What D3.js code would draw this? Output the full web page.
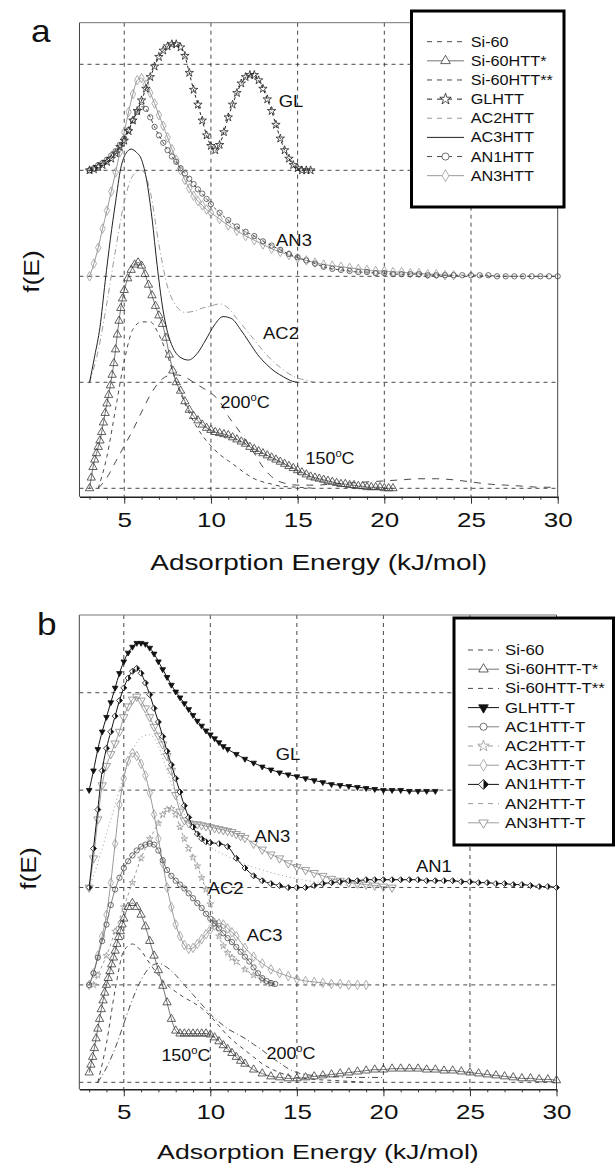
<!DOCTYPE html>
<html>
<head>
<meta charset="utf-8">
<script src="https://cdn.jsdelivr.net/npm/d3@7"></script>
<style>
  body { margin: 0; background: #fff; }
  svg { display: block; }
  text { font-family: "Liberation Sans", Arial, sans-serif; fill: #111; }
</style>
</head>
<body>
<div id="chart"></div>
<script>
// ---------------- data ----------------
const energyTicks = [5, 10, 15, 20, 25, 30];
const offsetLevels = [0, 1, 2, 3, 4];

const legendA = ['Si-60', 'Si-60HTT*', 'Si-60HTT**', 'GLHTT', 'AC2HTT', 'AC3HTT', 'AN1HTT', 'AN3HTT'];
const legendB = ['Si-60', 'Si-60HTT-T*', 'Si-60HTT-T**', 'GLHTT-T', 'AC1HTT-T', 'AC2HTT-T', 'AC3HTT-T', 'AN1HTT-T', 'AN2HTT-T', 'AN3HTT-T'];

// panel a  [E (kJ/mol), f(E) incl. offset]
const aSi60 = [[3.5,0.0],[4.0,0.3],[4.5,0.75],[5.0,1.2],[5.5,1.5],[6.0,1.57],[6.5,1.57],[7.0,1.45],[7.5,1.25],[8.0,1.0],[8.5,0.8],[9.0,0.63],[9.5,0.5],[10.0,0.4],[10.5,0.32],[11.0,0.26],[11.5,0.2],[12.0,0.14],[12.5,0.09],[13.0,0.06],[13.5,0.04],[14.0,0.02],[15.0,0.01],[16.0,0.0]];
const aSi60HTT1 = [[3.0,0.0],[3.1,0.1],[3.2,0.2],[3.3,0.27],[3.4,0.33],[3.5,0.39],[3.6,0.45],[3.7,0.53],[3.8,0.62],[3.9,0.71],[4.0,0.8],[4.1,0.88],[4.2,0.97],[4.3,1.07],[4.4,1.18],[4.5,1.31],[4.6,1.45],[4.7,1.58],[4.8,1.7],[4.9,1.79],[5.0,1.87],[5.2,1.98],[5.4,2.06],[5.6,2.11],[5.8,2.13],[6.0,2.1],[6.2,2.02],[6.4,1.92],[6.6,1.82],[6.8,1.72],[7.0,1.63],[7.2,1.55],[7.4,1.42],[7.6,1.26],[7.8,1.11],[8.0,1.0],[8.25,0.92],[8.5,0.82],[8.75,0.74],[9.0,0.68],[9.25,0.64],[9.5,0.6],[9.75,0.57],[10.0,0.55],[10.25,0.53],[10.5,0.52],[10.75,0.51],[11.0,0.5],[11.25,0.48],[11.5,0.46],[11.75,0.44],[12.0,0.42],[12.25,0.39],[12.5,0.37],[12.75,0.35],[13.0,0.33],[13.25,0.31],[13.5,0.29],[13.75,0.27],[14.0,0.25],[14.25,0.23],[14.5,0.21],[14.75,0.19],[15.0,0.17],[15.25,0.15],[15.5,0.13],[15.75,0.11],[16.0,0.1],[16.25,0.09],[16.5,0.08],[16.75,0.07],[17.0,0.06],[17.25,0.05],[17.5,0.04],[17.75,0.04],[18.0,0.03],[18.25,0.03],[18.5,0.02],[18.75,0.02],[19.0,0.01],[19.25,0.01],[19.5,0.01],[19.75,0.01],[20.0,0.0],[20.25,0.0],[20.5,0.0]];
const aSi60HTT2 = [[3.5,0.0],[4.0,0.1],[4.5,0.25],[5.0,0.4],[5.5,0.55],[6.0,0.72],[6.5,0.88],[7.0,1.0],[7.5,1.06],[8.0,1.07],[8.5,1.05],[9.0,1.0],[9.5,0.95],[10.0,0.9],[10.5,0.82],[11.0,0.68],[11.5,0.57],[12.0,0.45],[12.5,0.33],[13.0,0.2],[13.5,0.11],[14.0,0.06],[15.0,0.03],[16.0,0.03],[17.0,0.04],[18.0,0.05],[19.0,0.06],[20.0,0.07],[21.0,0.08],[22.0,0.09],[23.0,0.09],[24.0,0.08],[25.0,0.06],[26.0,0.04],[27.0,0.03],[28.0,0.02],[29.0,0.01],[30.0,0.01]];
const aGL = [[3.0,3.0],[3.25,3.01],[3.5,3.03],[3.75,3.05],[4.0,3.08],[4.25,3.11],[4.5,3.16],[4.75,3.22],[5.0,3.28],[5.25,3.37],[5.5,3.47],[5.75,3.56],[6.0,3.66],[6.25,3.77],[6.5,3.88],[6.75,3.98],[7.0,4.07],[7.25,4.13],[7.5,4.17],[7.75,4.19],[8.0,4.19],[8.25,4.16],[8.5,4.08],[8.75,3.92],[9.0,3.76],[9.25,3.62],[9.5,3.47],[9.75,3.33],[10.0,3.23],[10.25,3.19],[10.5,3.24],[10.75,3.36],[11.0,3.5],[11.25,3.62],[11.5,3.73],[11.75,3.82],[12.0,3.88],[12.25,3.9],[12.5,3.9],[12.75,3.85],[13.0,3.77],[13.25,3.67],[13.5,3.56],[13.75,3.43],[14.0,3.3],[14.25,3.19],[14.5,3.11],[14.75,3.05],[15.0,3.02],[15.25,3.0],[15.5,3.0],[15.75,3.0]];
const aAC2 = [[3.0,1.0],[3.5,1.3],[4.0,1.75],[4.5,2.25],[5.0,2.7],[5.5,2.95],[6.0,3.0],[6.5,2.8],[7.0,2.3],[7.5,1.9],[8.0,1.72],[8.5,1.66],[9.0,1.67],[9.5,1.7],[10.0,1.72],[10.5,1.74],[11.0,1.7],[11.5,1.6],[12.0,1.5],[12.5,1.4],[13.0,1.3],[13.5,1.21],[14.0,1.14],[14.5,1.08],[15.0,1.04],[15.5,1.02],[16.0,1.0]];
const aAC3 = [[3.0,1.0],[3.3,1.25],[3.6,1.52],[3.9,1.95],[4.2,2.35],[4.5,2.7],[4.8,3.02],[5.1,3.16],[5.4,3.2],[5.7,3.17],[6.0,3.1],[6.3,2.9],[6.6,2.55],[6.9,2.1],[7.2,1.72],[7.5,1.47],[7.8,1.33],[8.2,1.24],[8.7,1.21],[9.2,1.27],[9.7,1.4],[10.2,1.54],[10.7,1.62],[11.2,1.6],[11.7,1.5],[12.2,1.38],[12.7,1.26],[13.2,1.17],[13.7,1.1],[14.2,1.05],[14.7,1.01],[15.0,1.0]];
const aAN1 = [[3.0,3.0],[3.25,3.02],[3.5,3.05],[3.75,3.07],[4.0,3.1],[4.25,3.14],[4.5,3.18],[4.75,3.24],[5.0,3.3],[5.25,3.38],[5.5,3.47],[5.75,3.55],[6.0,3.6],[6.25,3.58],[6.5,3.5],[6.75,3.41],[7.0,3.33],[7.25,3.26],[7.5,3.19],[7.75,3.13],[8.0,3.08],[8.25,3.02],[8.5,2.97],[8.75,2.92],[9.0,2.87],[9.25,2.82],[9.5,2.78],[9.75,2.73],[10.0,2.68],[10.5,2.6],[11.0,2.53],[11.5,2.47],[12.0,2.42],[12.5,2.38],[13.0,2.33],[13.5,2.29],[14.0,2.25],[14.5,2.21],[15.0,2.18],[15.5,2.15],[16.0,2.12],[16.5,2.09],[17.0,2.07],[17.5,2.06],[18.0,2.05],[18.5,2.04],[19.0,2.04],[19.5,2.03],[20.0,2.03],[20.5,2.02],[21.0,2.02],[21.5,2.02],[22.0,2.02],[22.5,2.01],[23.0,2.01],[23.5,2.01],[24.0,2.01],[24.5,2.01],[25.0,2.01],[25.5,2.01],[26.0,2.01],[26.5,2.0],[27.0,2.0],[27.5,2.0],[28.0,2.0],[28.5,2.0],[29.0,2.0],[29.5,2.0],[30.0,2.0]];
const aAN3 = [[3.0,2.0],[3.25,2.12],[3.5,2.27],[3.75,2.45],[4.0,2.62],[4.25,2.8],[4.5,2.98],[4.75,3.17],[5.0,3.36],[5.25,3.55],[5.5,3.72],[5.75,3.85],[6.0,3.87],[6.25,3.81],[6.5,3.73],[6.75,3.63],[7.0,3.52],[7.25,3.42],[7.5,3.31],[7.75,3.2],[8.0,3.1],[8.25,3.0],[8.5,2.91],[8.75,2.83],[9.0,2.76],[9.25,2.71],[9.5,2.67],[9.75,2.63],[10.0,2.6],[10.5,2.54],[11.0,2.48],[11.5,2.43],[12.0,2.38],[12.5,2.34],[13.0,2.3],[13.5,2.26],[14.0,2.23],[14.5,2.2],[15.0,2.17],[15.5,2.15],[16.0,2.13],[16.5,2.11],[17.0,2.1],[17.5,2.09],[18.0,2.08],[18.5,2.07],[19.0,2.06],[19.5,2.05],[20.0,2.05],[20.5,2.04],[21.0,2.04],[21.5,2.03],[22.0,2.03],[22.5,2.02],[23.0,2.02],[23.5,2.01],[24.0,2.01]];

// panel b
const bSi60 = [[3.5,0.0],[4.0,0.4],[4.5,0.95],[5.0,1.35],[5.5,1.42],[6.0,1.35],[6.5,1.22],[7.0,1.1],[7.5,1.0],[8.0,0.93],[8.5,0.87],[9.0,0.82],[9.5,0.76],[10.0,0.68],[10.5,0.58],[11.0,0.48],[11.5,0.4],[12.0,0.33],[12.5,0.26],[13.0,0.19],[13.5,0.14],[14.0,0.1],[14.5,0.07],[15.0,0.05],[16.0,0.03],[17.0,0.02],[18.0,0.01],[19.0,0.0]];
const bSi60T1 = [[3.0,0.1],[3.1,0.18],[3.2,0.26],[3.3,0.35],[3.4,0.45],[3.5,0.55],[3.6,0.65],[3.7,0.75],[3.8,0.84],[3.9,0.92],[4.0,1.0],[4.1,1.07],[4.2,1.14],[4.3,1.21],[4.4,1.28],[4.5,1.35],[4.6,1.42],[4.7,1.49],[4.8,1.55],[4.9,1.62],[5.0,1.68],[5.25,1.8],[5.5,1.84],[5.75,1.8],[6.0,1.72],[6.25,1.6],[6.5,1.45],[6.75,1.3],[7.0,1.15],[7.25,0.99],[7.5,0.82],[7.75,0.65],[8.0,0.53],[8.25,0.5],[8.5,0.5],[8.75,0.5],[9.0,0.5],[9.25,0.5],[9.5,0.5],[9.75,0.5],[10.0,0.49],[10.25,0.46],[10.5,0.42],[10.75,0.38],[11.0,0.34],[11.25,0.3],[11.5,0.26],[11.75,0.22],[12.0,0.19],[12.5,0.13],[13.0,0.09],[13.5,0.06],[14.0,0.05],[14.5,0.04],[15.0,0.04],[15.5,0.05],[16.0,0.06],[16.5,0.07],[17.0,0.08],[17.5,0.09],[18.0,0.1],[18.5,0.11],[19.0,0.12],[19.5,0.13],[20.0,0.13],[20.5,0.14],[21.0,0.14],[21.5,0.14],[22.0,0.14],[22.5,0.13],[23.0,0.13],[23.5,0.12],[24.0,0.12],[24.5,0.11],[25.0,0.1],[25.5,0.09],[26.0,0.08],[26.5,0.07],[27.0,0.06],[27.5,0.05],[28.0,0.04],[28.5,0.04],[29.0,0.03],[29.5,0.03],[30.0,0.02]];
const bSi60T2 = [[3.5,0.0],[4.0,0.15],[4.5,0.35],[5.0,0.6],[5.5,0.85],[6.0,1.05],[6.5,1.18],[7.0,1.22],[7.5,1.18],[8.0,1.1],[8.5,1.0],[9.0,0.9],[9.5,0.8],[10.0,0.7],[10.5,0.62],[11.0,0.55],[11.5,0.5],[12.0,0.45],[12.5,0.39],[13.0,0.33],[13.5,0.26],[14.0,0.2],[14.5,0.14],[15.0,0.1],[15.5,0.08],[16.0,0.07],[17.0,0.06],[18.0,0.05],[19.0,0.05],[20.0,0.05]];
const bGL = [[3.0,3.0],[3.25,3.2],[3.5,3.42],[3.75,3.6],[4.0,3.75],[4.25,3.9],[4.5,4.05],[4.75,4.2],[5.0,4.32],[5.25,4.41],[5.5,4.47],[5.75,4.51],[6.0,4.51],[6.25,4.5],[6.5,4.46],[6.75,4.4],[7.0,4.32],[7.25,4.24],[7.5,4.16],[7.75,4.08],[8.0,4.01],[8.25,3.95],[8.5,3.89],[8.75,3.83],[9.0,3.77],[9.25,3.71],[9.5,3.66],[9.75,3.61],[10.0,3.57],[10.25,3.53],[10.5,3.49],[10.75,3.45],[11.0,3.42],[11.5,3.37],[12.0,3.32],[12.5,3.28],[13.0,3.24],[13.5,3.21],[14.0,3.18],[14.5,3.16],[15.0,3.14],[15.5,3.12],[16.0,3.1],[16.5,3.08],[17.0,3.06],[17.5,3.05],[18.0,3.04],[18.5,3.03],[19.0,3.02],[19.5,3.01],[20.0,3.0],[20.5,3.0],[21.0,3.0],[21.5,2.99],[22.0,2.99],[22.5,2.99],[23.0,2.99]];
const bAC1 = [[3.0,1.0],[3.25,1.12],[3.5,1.28],[3.75,1.45],[4.0,1.62],[4.25,1.82],[4.5,1.98],[4.75,2.1],[5.0,2.2],[5.25,2.27],[5.5,2.33],[5.75,2.38],[6.0,2.42],[6.25,2.44],[6.5,2.45],[6.75,2.44],[7.0,2.38],[7.25,2.28],[7.5,2.18],[7.75,2.12],[8.0,2.07],[8.25,2.03],[8.5,1.99],[8.75,1.94],[9.0,1.89],[9.25,1.84],[9.5,1.79],[9.75,1.73],[10.0,1.68],[10.25,1.63],[10.5,1.58],[10.75,1.53],[11.0,1.48],[11.25,1.44],[11.5,1.39],[11.75,1.34],[12.0,1.29],[12.25,1.24],[12.5,1.18],[12.75,1.12],[13.0,1.07],[13.25,1.04],[13.5,1.02],[13.75,1.01]];
const bAC2 = [[3.25,1.0],[3.5,1.1],[4.0,1.3],[4.5,1.55],[5.0,1.8],[5.5,2.05],[6.0,2.3],[6.5,2.5],[7.0,2.66],[7.25,2.75],[7.5,2.8],[7.75,2.81],[8.0,2.75],[8.25,2.62],[8.5,2.5],[8.75,2.4],[9.0,2.31],[9.25,2.22],[9.5,2.1],[9.75,1.98],[10.0,1.83],[10.25,1.65],[10.5,1.5],[10.75,1.4],[11.0,1.33],[11.25,1.28],[11.5,1.24],[12.0,1.16],[12.5,1.1],[13.0,1.05],[13.5,1.01]];
const bAC3 = [[3.0,1.0],[3.25,1.12],[3.5,1.3],[3.75,1.5],[4.0,1.72],[4.25,2.05],[4.5,2.45],[4.75,2.85],[5.0,3.12],[5.25,3.3],[5.5,3.38],[5.75,3.35],[6.0,3.27],[6.25,3.15],[6.5,2.97],[6.75,2.75],[7.0,2.5],[7.25,2.25],[7.5,2.0],[7.75,1.8],[8.0,1.62],[8.25,1.5],[8.5,1.41],[8.75,1.37],[9.0,1.38],[9.25,1.42],[9.5,1.47],[9.75,1.52],[10.0,1.57],[10.25,1.61],[10.5,1.63],[10.75,1.62],[11.0,1.58],[11.25,1.54],[11.5,1.5],[12.0,1.38],[12.5,1.29],[13.0,1.22],[13.5,1.16],[14.0,1.12],[14.5,1.09],[15.0,1.06],[15.5,1.04],[16.0,1.03],[16.5,1.02],[17.0,1.01],[17.5,1.01],[18.0,1.0],[18.5,1.0],[19.0,1.0]];
const bAN1 = [[3.0,2.0],[3.25,2.4],[3.5,2.8],[3.75,3.2],[4.0,3.43],[4.25,3.6],[4.5,3.76],[4.75,3.92],[5.0,4.05],[5.25,4.15],[5.5,4.22],[5.75,4.25],[6.0,4.2],[6.25,4.1],[6.5,3.98],[6.75,3.84],[7.0,3.7],[7.25,3.55],[7.5,3.4],[7.75,3.26],[8.0,3.12],[8.25,2.98],[8.5,2.84],[8.75,2.72],[9.0,2.62],[9.25,2.55],[9.5,2.5],[9.75,2.47],[10.0,2.46],[10.5,2.45],[11.0,2.42],[11.5,2.3],[12.0,2.2],[12.5,2.12],[13.0,2.07],[13.5,2.04],[14.0,2.02],[14.5,2.0],[15.0,2.0],[15.5,2.0],[16.0,2.02],[16.5,2.04],[17.0,2.05],[17.5,2.06],[18.0,2.07],[18.5,2.07],[19.0,2.08],[19.5,2.08],[20.0,2.08],[20.5,2.08],[21.0,2.08],[21.5,2.08],[22.0,2.08],[22.5,2.07],[23.0,2.07],[23.5,2.07],[24.0,2.07],[24.5,2.06],[25.0,2.06],[25.5,2.05],[26.0,2.05],[26.5,2.04],[27.0,2.04],[27.5,2.03],[28.0,2.03],[28.5,2.02],[29.0,2.01],[29.5,2.01],[30.0,2.0]];
const bAN2 = [[3.0,2.0],[3.5,2.25],[4.0,2.55],[4.5,2.85],[5.0,3.15],[5.5,3.4],[6.0,3.54],[6.5,3.57],[7.0,3.45],[7.5,3.2],[8.0,2.95],[8.5,2.75],[9.0,2.6],[9.5,2.5],[10.0,2.42],[11.0,2.32],[12.0,2.24],[13.0,2.18],[14.0,2.13],[15.0,2.09],[16.0,2.06],[17.0,2.04],[18.0,2.02],[19.0,2.01],[20.0,2.0]];
const bAN3 = [[3.0,2.0],[3.25,2.3],[3.5,2.7],[3.75,3.05],[4.0,3.25],[4.25,3.37],[4.5,3.48],[4.75,3.6],[5.0,3.75],[5.25,3.86],[5.5,3.93],[5.75,3.96],[6.0,3.92],[6.25,3.84],[6.5,3.75],[6.75,3.65],[7.0,3.56],[7.25,3.47],[7.5,3.35],[7.75,3.2],[8.0,2.95],[8.25,2.78],[8.5,2.69],[8.75,2.66],[9.0,2.65],[9.25,2.65],[9.5,2.64],[9.75,2.63],[10.0,2.62],[10.25,2.61],[10.5,2.6],[10.75,2.59],[11.0,2.58],[11.25,2.57],[11.5,2.55],[11.75,2.53],[12.0,2.51],[12.5,2.45],[13.0,2.39],[13.5,2.34],[14.0,2.3],[14.5,2.25],[15.0,2.21],[15.5,2.18],[16.0,2.15],[16.5,2.12],[17.0,2.09],[17.5,2.07],[18.0,2.05],[18.5,2.04],[19.0,2.03],[19.5,2.02],[20.0,2.01],[20.5,2.0]];

// curve labels (text only; placed below in data units)
const notesA = ['GL', 'AN3', 'AC2', '200', '150'];
const notesB = ['GL', 'AN3', 'AN1', 'AC2', 'AC3', '150', '200'];

// ---------------- styles ----------------
const dark = '#222', mid = '#4a4a4a', light = '#9a9a9a';
const styles = {
  'Si-60':        { color: mid, dash: '4,4' },
  'Si-60HTT*':    { color: '#3a3a3a', width: 0.7, marker: 'triangle', size: 30 },
  'Si-60HTT**':   { color: mid, dash: '7,7' },
  'GLHTT':        { color: dark, dash: '3,3', marker: 'star', size: 22 },
  'AC2HTT':       { color: light, dash: '6,3,1,3' },
  'AC3HTT':       { color: dark, width: 1 },
  'AN1HTT':       { color: mid, dash: '3,3', marker: 'circle', size: 22 },
  'AN3HTT':       { color: light, marker: 'diamond', size: 26 },
  'Si-60HTT-T*':  { color: '#3a3a3a', width: 0.7, marker: 'triangle', size: 30 },
  'Si-60HTT-T**': { color: mid, dash: '6,3,1,3' },
  'GLHTT-T':      { color: '#111', width: 1, marker: 'triangle', flip: true, fill: '#111', size: 14 },
  'AC1HTT-T':     { color: mid, width: 0.7, marker: 'circle', size: 22 },
  'AC2HTT-T':     { color: light, dash: '3,3', marker: 'star', size: 14 },
  'AC3HTT-T':     { color: light, marker: 'diamond', size: 26 },
  'AN1HTT-T':     { color: '#111', width: 1, marker: 'half', size: 3 },
  'AN2HTT-T':     { color: light, dash: '1,3' },
  'AN3HTT-T':     { color: '#888', width: 0.8, marker: 'triangle', flip: true, size: 30 }
};

const W = 615, H = 1165;
const svg = d3.select('#chart').append('svg').attr('width', W).attr('height', H);

const symbolOf = {
  triangle: d3.symbolTriangle, star: d3.symbolStar,
  circle: d3.symbolCircle, diamond: d3.symbolDiamond
};

function addMarker(sel, st) {
  if (st.marker === 'half') {
    const s = st.size;
    sel.append('path').attr('d', `M${-s},0L0,${-s}L${s},0L0,${s}Z`)
      .attr('fill', '#fff').attr('stroke', st.color).attr('stroke-width', 0.8);
    sel.append('path').attr('d', `M0,${-s}L${s},0L0,${s}Z`).attr('fill', st.color);
    return;
  }
  sel.append('path')
    .attr('d', d3.symbol(symbolOf[st.marker], st.size)())
    .attr('transform', st.flip ? 'rotate(180)' : null)
    .attr('fill', st.fill || 'none')
    .attr('stroke', st.color)
    .attr('stroke-width', 0.8);
}

function stretchText(parent, x, y, str, size, sx, anchor) {
  return parent.append('text')
    .attr('transform', `translate(${x},${y}) scale(${sx},1)`)
    .attr('text-anchor', anchor || 'middle')
    .style('font-size', size + 'px')
    .text(str);
}

function tempText(parent, x, y, value) {
  const t = parent.append('text')
    .attr('transform', `translate(${x},${y}) scale(1.12,1)`)
    .attr('text-anchor', 'middle')
    .attr('dy', '0.35em')
    .style('font-size', '16px');
  t.append('tspan').text(value);
  t.append('tspan').attr('dy', -7).style('font-size', '10px').text('o');
  t.append('tspan').attr('dy', 7).text('C');
}

function drawPanel(p) {
  const x = d3.scaleLinear().domain(p.xDomain).range([p.left, p.right]);
  const y = d3.scaleLinear().domain(p.yDomain).range([p.bottom, p.top]);
  const g = svg.append('g');

  // grid
  g.append('g').selectAll('line').data(energyTicks.filter(d => d < 30)).join('line')
    .attr('x1', d => x(d)).attr('x2', d => x(d))
    .attr('y1', p.top).attr('y2', p.bottom)
    .attr('stroke', '#333').attr('stroke-width', 0.9).attr('stroke-dasharray', '4,4');
  g.append('g').selectAll('line').data(offsetLevels).join('line')
    .attr('x1', p.left).attr('x2', p.right)
    .attr('y1', d => y(d)).attr('y2', d => y(d))
    .attr('stroke', '#333').attr('stroke-width', 0.9).attr('stroke-dasharray', '4,4');

  // frame
  g.append('line').attr('x1', p.left).attr('x2', p.left).attr('y1', p.top).attr('y2', p.bottom)
    .attr('stroke', '#444').attr('stroke-width', 1);
  g.append('line').attr('x1', p.left).attr('x2', p.right).attr('y1', p.top).attr('y2', p.top)
    .attr('stroke', '#777').attr('stroke-width', 1);
  g.append('line').attr('x1', p.right).attr('x2', p.right).attr('y1', p.top).attr('y2', p.bottom)
    .attr('stroke', '#444').attr('stroke-width', 1);

  // series
  const line = d3.line().x(d => x(d[0])).y(d => y(d[1])).curve(d3.curveMonotoneX);
  p.series.forEach(s => {
    const st = styles[s.name];
    g.append('path').datum(s.data)
      .attr('d', line)
      .attr('fill', 'none')
      .attr('stroke', st.color)
      .attr('stroke-width', st.width || 1)
      .attr('stroke-dasharray', st.dash || null);
    if (st.marker) {
      g.append('g').selectAll('g').data(s.data).join('g')
        .attr('transform', d => `translate(${x(d[0])},${y(d[1])})`)
        .call(addMarker, st);
    }
  });

  // x axis: minor and major ticks
  const axisMinor = g.append('g').attr('transform', `translate(0,${p.bottom})`)
    .call(d3.axisBottom(x).tickValues(d3.range(3, 31)).tickSize(3).tickSizeOuter(0).tickFormat(''));
  axisMinor.select('.domain').attr('stroke', '#222').attr('stroke-width', 1.6);
  axisMinor.selectAll('.tick line').attr('stroke', '#333');
  const axisMajor = g.append('g').attr('transform', `translate(0,${p.bottom})`)
    .call(d3.axisBottom(x).tickValues(energyTicks).tickSize(7).tickSizeOuter(0).tickPadding(9));
  axisMajor.select('.domain').remove();
  axisMajor.selectAll('.tick line').attr('stroke', '#333');
  axisMajor.selectAll('.tick text')
    .attr('transform', 'scale(1.3,1)')
    .style('font-size', '20px')
    .style('font-family', '"Liberation Sans", Arial, sans-serif')
    .attr('fill', '#111');

  // titles
  stretchText(g, (p.left + p.right) / 2, p.titleY, 'Adsorption Energy (kJ/mol)', p.titleSize, 1.27);
  g.append('text')
    .attr('transform', `translate(${p.yLabelX},${p.yLabelY}) rotate(-90) scale(1.2,1)`)
    .attr('text-anchor', 'middle').attr('dy', '0.35em')
    .style('font-size', '22px').text('f(E)');
  stretchText(g, p.letterX, p.letterY, p.letter, 32, 1.1, 'start');

  // curve notes
  p.notes.forEach(n => {
    if (/^\d/.test(n.text)) tempText(g, x(n.e), y(n.f), n.text);
    else stretchText(g, x(n.e), y(n.f), n.text, 16, 1.15).attr('dy', '0.35em');
  });

  // legend
  const L = p.legend;
  const lg = g.append('g');
  lg.append('rect').attr('x', L.x0).attr('y', L.y0)
    .attr('width', L.x1 - L.x0).attr('height', L.y1 - L.y0)
    .attr('fill', '#fff').attr('stroke', '#000').attr('stroke-width', 3);
  L.names.forEach((name, i) => {
    const st = styles[name];
    const yy = L.rowY + i * L.rowH;
    lg.append('line').attr('x1', L.sx0).attr('x2', L.sx1).attr('y1', yy).attr('y2', yy)
      .attr('stroke', st.color).attr('stroke-width', st.width || 1)
      .attr('stroke-dasharray', st.dash ? '5,5' : null);
    if (st.marker) {
      lg.append('g').attr('transform', `translate(${(L.sx0 + L.sx1) / 2},${yy})`)
        .call(sel => addMarker(sel, Object.assign({}, st, st.marker === 'half' ? { size: 5 } : { size: Math.max(st.size, 40), fill: st.fill || '#fff' })));
    }
    stretchText(lg, L.tx, yy, name, 14, L.tsx, 'start').attr('dy', '0.36em');
  });
}

drawPanel({
  letter: 'a', letterX: 31, letterY: 42,
  left: 79.5, right: 557.7, top: 22.7, bottom: 496.7,
  xDomain: [2.42, 30], yDomain: [-0.0792, 4.3925],
  titleY: 570, titleSize: 22, yLabelX: 31, yLabelY: 271.5,
  series: [
    { name: 'AC2HTT', data: aAC2 },
    { name: 'AN3HTT', data: aAN3 },
    { name: 'Si-60', data: aSi60 },
    { name: 'Si-60HTT**', data: aSi60HTT2 },
    { name: 'AC3HTT', data: aAC3 },
    { name: 'AN1HTT', data: aAN1 },
    { name: 'GLHTT', data: aGL },
    { name: 'Si-60HTT*', data: aSi60HTT1 }
  ],
  notes: [
    { text: notesA[0], e: 14.62, f: 3.654 },
    { text: notesA[1], e: 14.79, f: 2.342 },
    { text: notesA[2], e: 14.04, f: 1.46 },
    { text: notesA[3], e: 11.97, f: 0.814 },
    { text: notesA[4], e: 16.87, f: 0.281 }
  ],
  legend: {
    names: legendA, x0: 411.5, y0: 11, x1: 564, y1: 207,
    rowY: 41.7, rowH: 19.14, sx0: 427, sx1: 464, tx: 470.7, tsx: 1.16
  }
});

drawPanel({
  letter: 'b', letterX: 37, letterY: 635,
  left: 79.3, right: 556.5, top: 615, bottom: 1089.3,
  xDomain: [2.43, 30], yDomain: [-0.0719, 4.798],
  titleY: 1158.5, titleSize: 21, yLabelX: 28, yLabelY: 868.5,
  series: [
    { name: 'AN2HTT-T', data: bAN2 },
    { name: 'AC2HTT-T', data: bAC2 },
    { name: 'AC3HTT-T', data: bAC3 },
    { name: 'AN3HTT-T', data: bAN3 },
    { name: 'Si-60', data: bSi60 },
    { name: 'Si-60HTT-T**', data: bSi60T2 },
    { name: 'AC1HTT-T', data: bAC1 },
    { name: 'Si-60HTT-T*', data: bSi60T1 },
    { name: 'AN1HTT-T', data: bAN1 },
    { name: 'GLHTT-T', data: bGL }
  ],
  notes: [
    { text: notesB[0], e: 14.49, f: 3.371 },
    { text: notesB[1], e: 13.59, f: 2.529 },
    { text: notesB[2], e: 22.92, f: 2.221 },
    { text: notesB[3], e: 10.88, f: 1.995 },
    { text: notesB[4], e: 13.14, f: 1.512 },
    { text: notesB[5], e: 8.59, f: 0.28 },
    { text: notesB[6], e: 14.66, f: 0.30 }
  ],
  legend: {
    names: legendB, x0: 454, y0: 618, x1: 613.5, y1: 845,
    rowY: 650, rowH: 19.2, sx0: 468, sx1: 499, tx: 505, tsx: 1.2
  }
});
</script>
</body>
</html>
